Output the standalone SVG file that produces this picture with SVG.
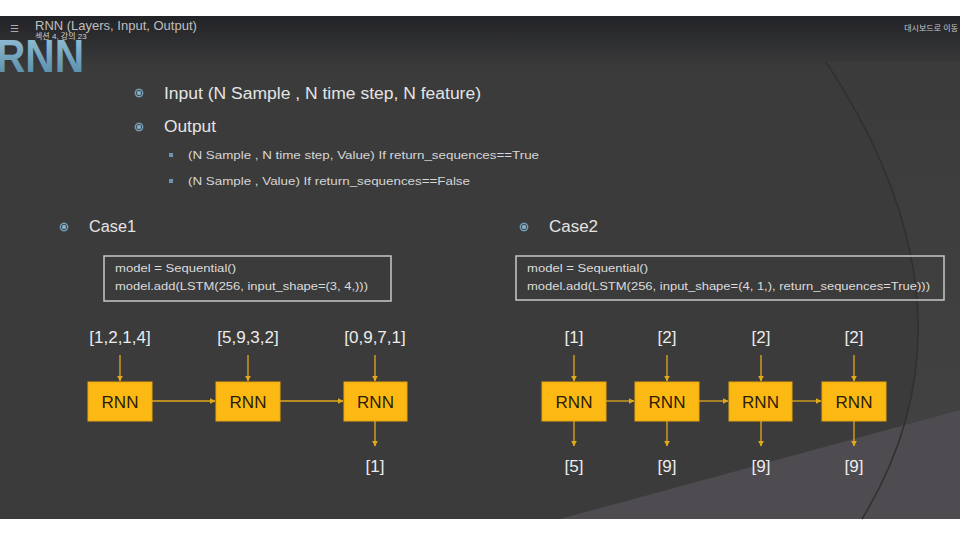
<svg xmlns="http://www.w3.org/2000/svg" width="960" height="540" viewBox="0 0 960 540">
<defs>
<linearGradient id="topbar" x1="0" y1="0" x2="0" y2="1">
<stop offset="0" stop-color="#222327"/>
<stop offset="1" stop-color="#3a3a3b"/>
</linearGradient>
<linearGradient id="logo" x1="0" y1="0" x2="0" y2="1">
<stop offset="0" stop-color="#9cc6dc"/>
<stop offset="1" stop-color="#4f86a3"/>
</linearGradient>
<linearGradient id="rside" x1="0" y1="0" x2="0" y2="1">
<stop offset="0" stop-color="#3b3b3b"/>
<stop offset="1" stop-color="#434344"/>
</linearGradient>
<radialGradient id="bul" cx="0.5" cy="0.5" r="0.5">
<stop offset="0" stop-color="#9ec3da"/>
<stop offset="0.45" stop-color="#6f97b0"/>
<stop offset="0.6" stop-color="#3b3b3b"/>
<stop offset="0.75" stop-color="#7ea5bd"/>
<stop offset="1" stop-color="#5d8097"/>
</radialGradient>
<marker id="ah" viewBox="0 0 10 10" refX="9" refY="5" markerWidth="6" markerHeight="6" orient="auto" markerUnits="userSpaceOnUse">
<path d="M0,0 L10,5 L0,10 z" fill="#e2a91c"/>
</marker>
<style>
.t{font-family:"Liberation Sans","Noto Sans CJK KR",Arial,sans-serif;}
.big{font-size:16px;fill:#e4e4e4;}
.sub{font-size:11.5px;fill:#d6d6d6;}
.code{font-size:11px;fill:#dcdcdc;}
.lbl{font-size:17px;fill:#ececec;text-anchor:middle;}
.box{fill:#fdb913;stroke:#e8a50c;stroke-width:1;}
.boxt{font-size:17px;fill:#2b1d05;text-anchor:middle;}
.cbox{fill:none;stroke:#c8c8c8;stroke-width:1.5;}
.arr{stroke:#e2a91c;stroke-width:1.3;fill:none;marker-end:url(#ah);}
</style>
</defs>
<rect x="0" y="0" width="960" height="540" fill="#ffffff"/>
<rect x="0" y="16" width="960" height="503" fill="#3b3b3b"/>
<rect x="0" y="16" width="960" height="50" fill="url(#topbar)"/>
<path d="M826,62 Q990,310 862,519 L960,519 L960,62 Z" fill="url(#rside)"/>
<path d="M560,519 Q740,470 960,410 L960,519 Z" fill="#4e4c50"/>
<path d="M826,62 Q990,310 862,519" fill="none" stroke="#303031" stroke-width="1.5"/>
<text x="-4" y="72" class="t" font-size="47" font-weight="bold" fill="url(#logo)" textLength="88" lengthAdjust="spacingAndGlyphs">RNN</text>
<text x="10" y="32" class="t" font-size="10" fill="#aaaaaa">☰</text>
<text x="35" y="30" class="t" font-size="13" fill="#bfbfbf">RNN (Layers, Input, Output)</text>
<text x="35" y="39" class="t" font-size="8" fill="#d0d0d0">섹션 4, 강의 23</text>
<text x="958" y="31" class="t" font-size="8" fill="#c8c8c8" text-anchor="end">대시보드로 이동</text>
<circle cx="139" cy="93" r="4.5" fill="url(#bul)"/>
<text x="164" y="99" class="t big" textLength="317" lengthAdjust="spacingAndGlyphs">Input (N Sample , N time step, N feature)</text>
<circle cx="139" cy="127" r="4.5" fill="url(#bul)"/>
<text x="164" y="132" class="t big" textLength="52" lengthAdjust="spacingAndGlyphs">Output</text>
<rect x="169" y="153" width="4" height="4" fill="#6f94ab"/>
<text x="188" y="159" class="t sub" textLength="351" lengthAdjust="spacingAndGlyphs">(N Sample , N time step, Value)  If  return_sequences==True</text>
<rect x="169" y="179" width="4" height="4" fill="#6f94ab"/>
<text x="188" y="185" class="t sub" textLength="282" lengthAdjust="spacingAndGlyphs">(N Sample , Value)  If  return_sequences==False</text>
<circle cx="64" cy="227" r="4.5" fill="url(#bul)"/>
<text x="89" y="232" class="t big" textLength="47" lengthAdjust="spacingAndGlyphs">Case1</text>
<circle cx="524" cy="227" r="4.5" fill="url(#bul)"/>
<text x="549" y="232" class="t big" textLength="49" lengthAdjust="spacingAndGlyphs">Case2</text>
<g id="code1">
<rect x="104" y="256" width="287" height="45" class="cbox"/>
<text x="115" y="272" class="t code" textLength="121" lengthAdjust="spacingAndGlyphs">model = Sequential()</text>
<text x="115" y="290" class="t code" textLength="253" lengthAdjust="spacingAndGlyphs">model.add(LSTM(256, input_shape=(3, 4,)))</text>
</g>
<g id="code2">
<rect x="516" y="256" width="428" height="44" class="cbox"/>
<text x="527" y="272" class="t code" textLength="121" lengthAdjust="spacingAndGlyphs">model = Sequential()</text>
<text x="527" y="290" class="t code" textLength="403" lengthAdjust="spacingAndGlyphs">model.add(LSTM(256, input_shape=(4, 1,), return_sequences=True)))</text>
</g>
<g id="c1_n1"><rect x="88" y="382" width="64" height="39" class="box"/><text x="120" y="408" class="t boxt">RNN</text></g>
<g id="c1_n2"><rect x="216" y="382" width="64" height="39" class="box"/><text x="248" y="408" class="t boxt">RNN</text></g>
<g id="c1_n3"><rect x="344" y="382" width="63" height="39" class="box"/><text x="375.5" y="408" class="t boxt">RNN</text></g>
<g id="c1_labels">
<text x="120" y="343" class="t lbl">[1,2,1,4]</text>
<text x="248" y="343" class="t lbl">[5,9,3,2]</text>
<text x="375" y="343" class="t lbl">[0,9,7,1]</text>
<text x="375" y="472" class="t lbl">[1]</text>
</g>
<g id="c2_n1"><rect x="542" y="382" width="64" height="39" class="box"/><text x="574" y="408" class="t boxt">RNN</text></g>
<g id="c2_n2"><rect x="635" y="382" width="64" height="39" class="box"/><text x="667" y="408" class="t boxt">RNN</text></g>
<g id="c2_n3"><rect x="729" y="382" width="63" height="39" class="box"/><text x="760.5" y="408" class="t boxt">RNN</text></g>
<g id="c2_n4"><rect x="822" y="382" width="64" height="39" class="box"/><text x="854" y="408" class="t boxt">RNN</text></g>
<g id="c2_labels">
<text x="574" y="343" class="t lbl">[1]</text>
<text x="667" y="343" class="t lbl">[2]</text>
<text x="761" y="343" class="t lbl">[2]</text>
<text x="854" y="343" class="t lbl">[2]</text>
<text x="574" y="472" class="t lbl">[5]</text>
<text x="667" y="472" class="t lbl">[9]</text>
<text x="761" y="472" class="t lbl">[9]</text>
<text x="854" y="472" class="t lbl">[9]</text>
</g>
<g id="connectors">
<line x1="120" y1="355" x2="120" y2="381" class="arr"/>
<line x1="248" y1="355" x2="248" y2="381" class="arr"/>
<line x1="375" y1="355" x2="375" y2="381" class="arr"/>
<line x1="152" y1="401" x2="215" y2="401" class="arr"/>
<line x1="280" y1="401" x2="343" y2="401" class="arr"/>
<line x1="375" y1="421" x2="375" y2="446" class="arr"/>
<line x1="574" y1="355" x2="574" y2="381" class="arr"/>
<line x1="667" y1="355" x2="667" y2="381" class="arr"/>
<line x1="761" y1="355" x2="761" y2="381" class="arr"/>
<line x1="854" y1="355" x2="854" y2="381" class="arr"/>
<line x1="606" y1="401" x2="634" y2="401" class="arr"/>
<line x1="699" y1="401" x2="728" y2="401" class="arr"/>
<line x1="792" y1="401" x2="821" y2="401" class="arr"/>
<line x1="574" y1="421" x2="574" y2="446" class="arr"/>
<line x1="667" y1="421" x2="667" y2="446" class="arr"/>
<line x1="761" y1="421" x2="761" y2="446" class="arr"/>
<line x1="854" y1="421" x2="854" y2="446" class="arr"/>
</g>
</svg>
